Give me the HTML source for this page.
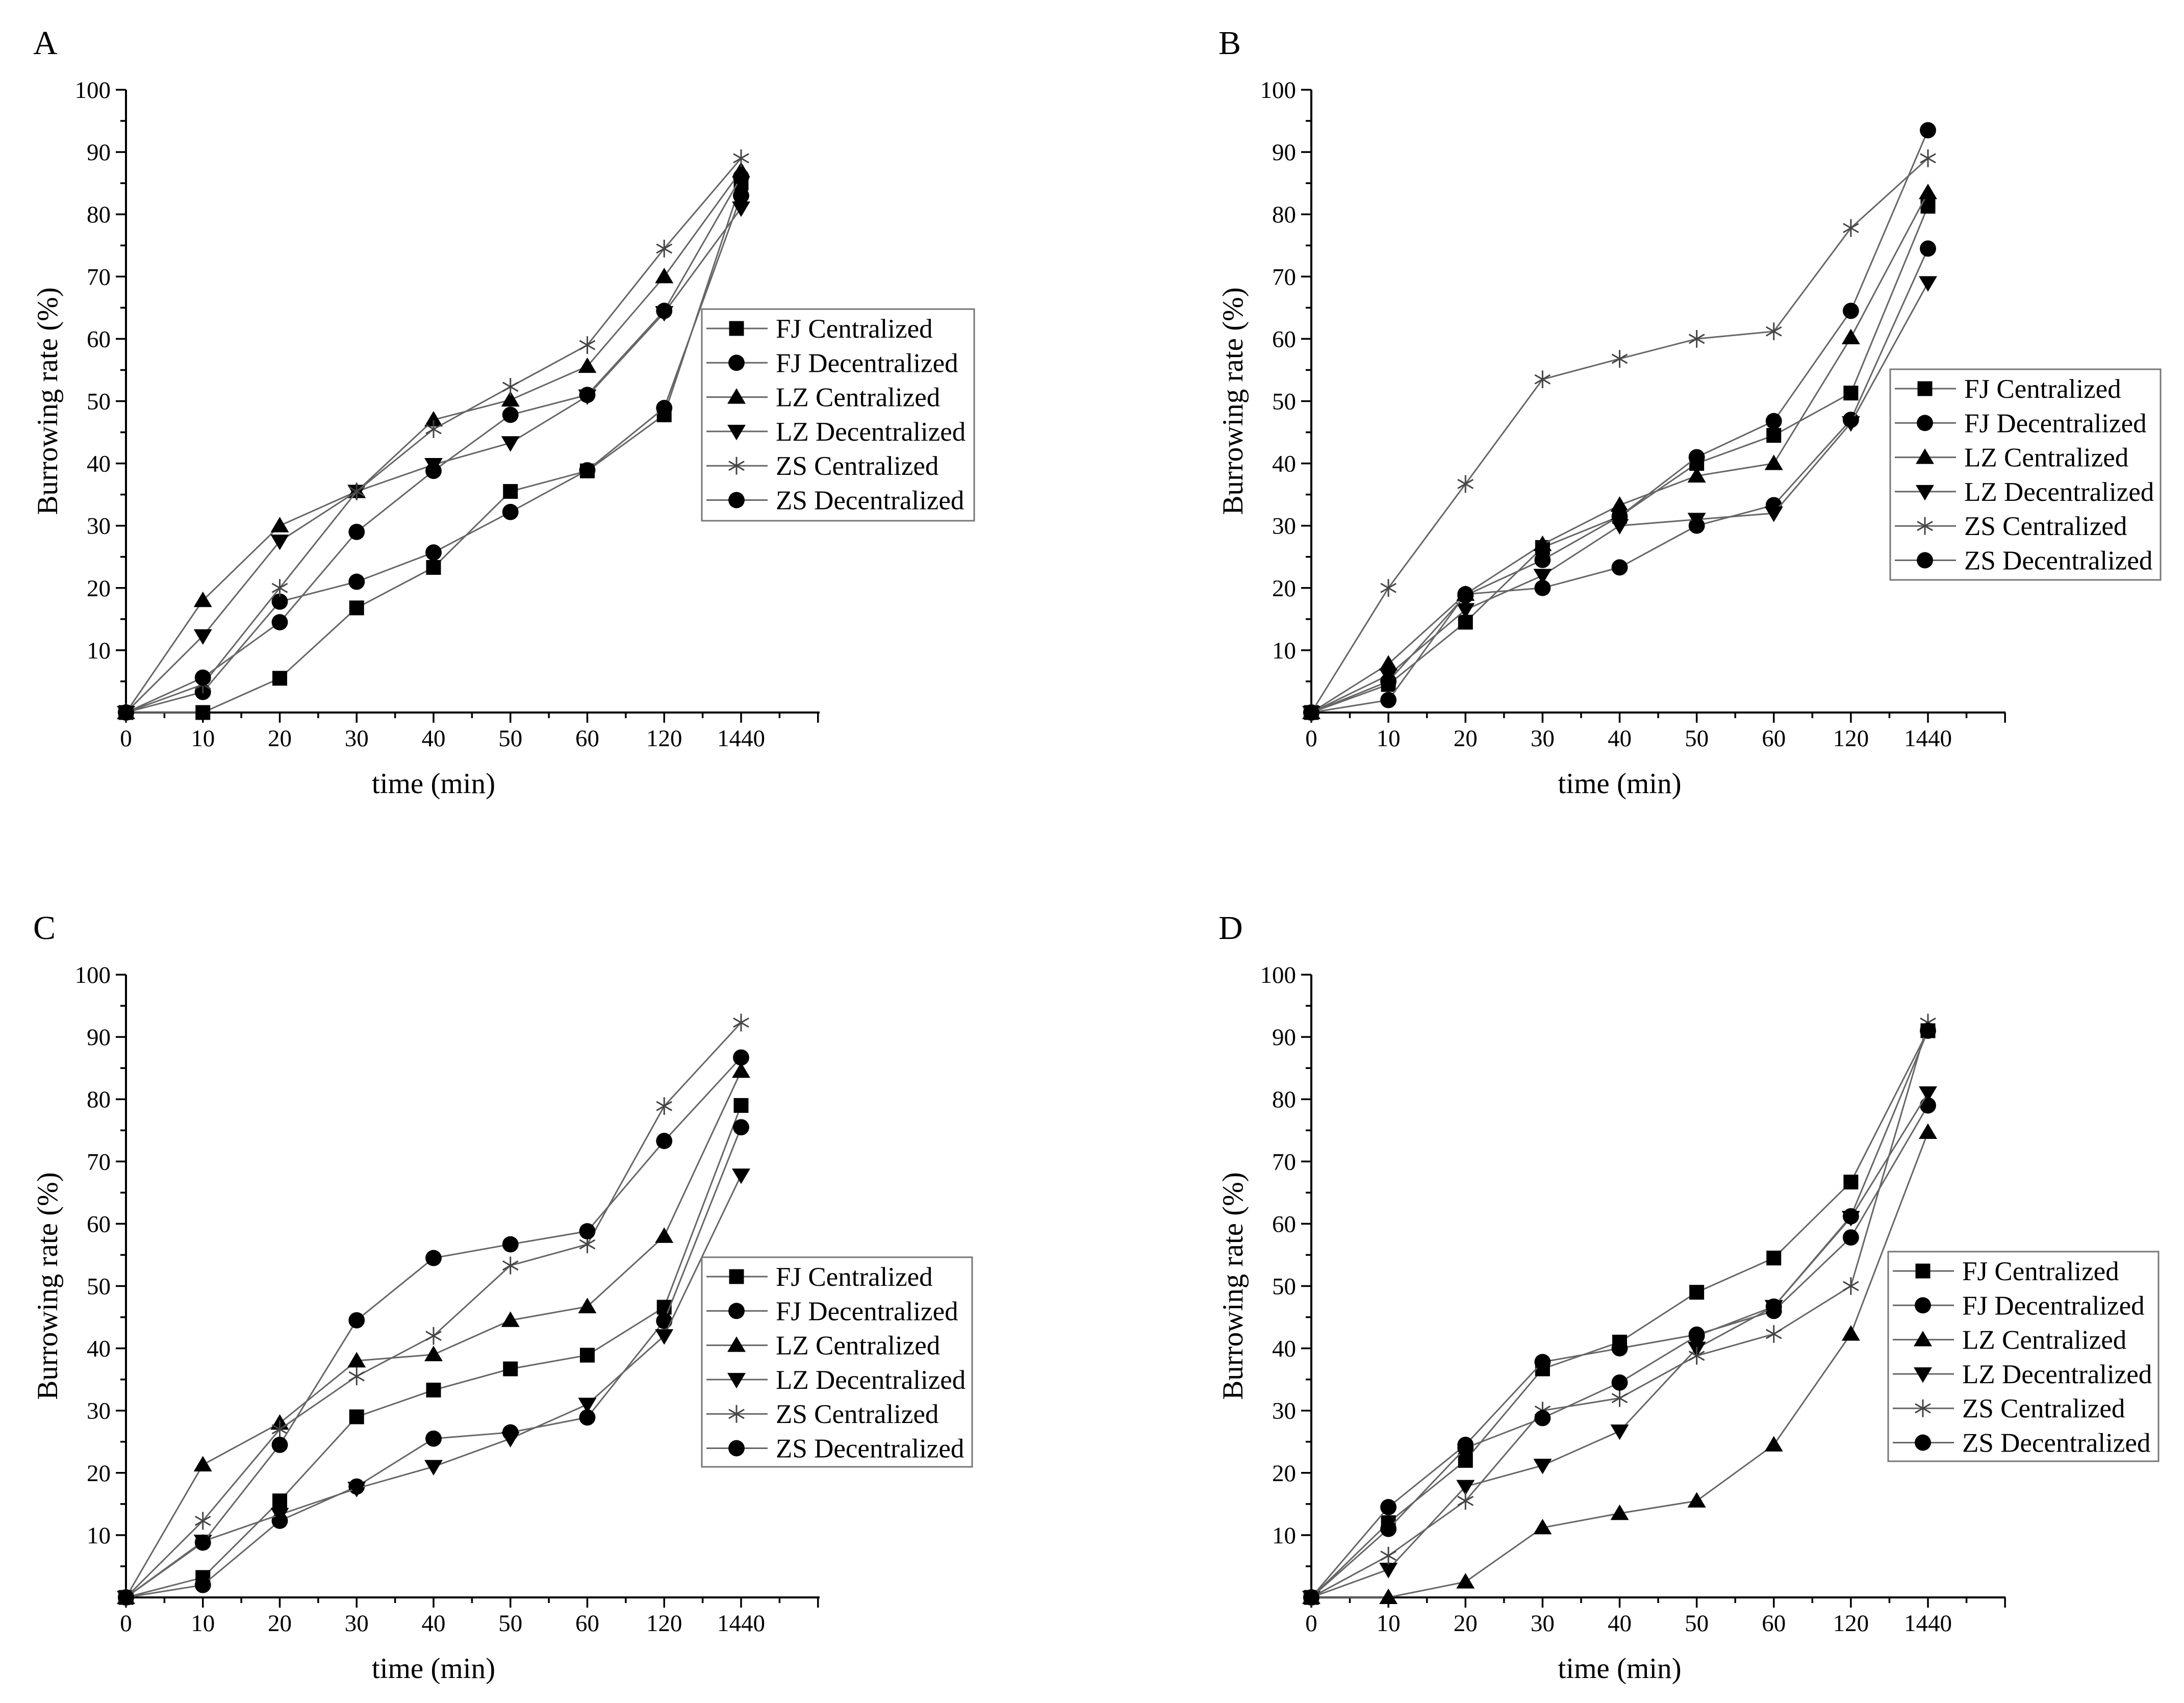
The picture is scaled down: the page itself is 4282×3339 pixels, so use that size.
<!DOCTYPE html>
<html><head><meta charset="utf-8"><style>
html,body{margin:0;padding:0;background:#fff;}
svg{display:block;font-family:"Liberation Serif",serif;}
</style></head><body>
<svg id="fig" xmlns="http://www.w3.org/2000/svg" width="4282" height="3339" viewBox="0 0 4282 3339">
<rect width="4282" height="3339" fill="#fff"/>
</svg>
<script>
const categories = ["0","10","20","30","40","50","60","120","1440"];
const seriesNames = ["FJ Centralized","FJ Decentralized","LZ Centralized","LZ Decentralized","ZS Centralized","ZS Decentralized"];
const yTicks = [10,20,30,40,50,60,70,80,90,100];
// Panel A
const A_FJC = [0,0,5.5,16.8,23.3,35.5,38.8,47.8,85];
const A_FJD = [0,3.3,17.8,21,25.7,32.2,38.9,48.9,83];
const A_LZC = [0,18,30,35.5,47,50.2,55.6,70,87];
const A_LZD = [0,12.3,27.5,35.5,39.8,43.3,50.8,64.2,81];
const A_ZSC = [0,4.5,20,35.5,45.5,52.3,59,74.5,89];
const A_ZSD = [0,5.6,14.5,29,38.8,47.8,51,64.5,86];
// Panel B
const B_FJC = [0,4.5,14.5,26.5,31.5,40,44.5,51.3,81.3];
const B_FJD = [0,2,19,20,23.3,30,33.3,47,74.5];
const B_LZC = [0,7.8,19,27,33.3,38,40,60.2,83.5];
const B_LZD = [0,6,16.5,22,30,31,32,46.5,69];
const B_ZSC = [0,20,36.7,53.5,56.8,60,61.2,77.8,89];
const B_ZSD = [0,5,18.8,24.5,31.5,41,46.8,64.5,93.5];
// Panel C
const C_FJC = [0,3.2,15.5,29,33.3,36.7,38.9,46.6,79];
const C_FJD = [0,2,12.3,17.8,25.5,26.5,28.9,44.4,75.5];
const C_LZC = [0,21.3,28,38,39,44.5,46.7,58,84.5];
const C_LZD = [0,9,13.3,17.5,21,25.5,31,42,67.8];
const C_ZSC = [0,12.3,27,35.5,42,53.3,56.7,78.9,92.3];
const C_ZSD = [0,8.8,24.5,44.5,54.5,56.7,58.8,73.3,86.7];
// Panel D
const D_FJC = [0,12,22,36.7,41,49,54.5,66.7,91];
const D_FJD = [0,14.5,24.5,37.8,40,42.2,46,57.8,79];
const D_LZC = [0,0,2.5,11.2,13.5,15.5,24.5,42.3,74.7];
const D_LZD = [0,4.5,17.8,21.2,26.7,40,46.7,61,81];
const D_ZSC = [0,6.7,15.5,30,32,38.8,42.3,50,92.3];
const D_ZSD = [0,11,24,28.8,34.5,42,46.7,61.2,91];

const NS="http://www.w3.org/2000/svg";
const svg=document.getElementById('fig');
function mk(tag,attrs,parent){const e=document.createElementNS(NS,tag);for(const k in attrs)e.setAttribute(k,attrs[k]);(parent||svg).appendChild(e);return e;}
const markers=["square","circle","up","down","star","circle"];
function drawMarker(g,type,x,y,s){
  let e;
  if(type==="square"){e=mk('rect',{x:x-s*0.5,y:y-s*0.5,width:s,height:s,fill:'#000'},g);}
  else if(type==="circle"){e=mk('circle',{cx:x,cy:y,r:s*0.55,fill:'#000'},g);}
  else if(type==="up"){e=mk('polygon',{points:`${x},${y-s*0.6} ${x-s*0.62},${y+s*0.45} ${x+s*0.62},${y+s*0.45}`,fill:'#000'},g);}
  else if(type==="down"){e=mk('polygon',{points:`${x},${y+s*0.6} ${x-s*0.62},${y-s*0.45} ${x+s*0.62},${y-s*0.45}`,fill:'#000'},g);}
  else {const r=s*0.6;let d='';for(let i=0;i<3;i++){const a=Math.PI/2+i*Math.PI/3;d+=`M${x+r*Math.cos(a)},${y+r*Math.sin(a)}L${x-r*Math.cos(a)},${y-r*Math.sin(a)}`;}
    e=mk('path',{d:d,stroke:'#444',"stroke-width":3,fill:'none'},g);}
  return e;
}
const panels=[
 {id:'a',label:'A',x0:247,x8:1453,xend:1607,yb:1397,yt:176,data:[A_FJC,A_FJD,A_LZC,A_LZD,A_ZSC,A_ZSD],lg:[1376,606,534,415]},
 {id:'b',label:'B',x0:2571,x8:3780,xend:3932,yb:1397,yt:176,data:[B_FJC,B_FJD,B_LZC,B_LZD,B_ZSC,B_ZSD],lg:[3706,724,530,413]},
 {id:'c',label:'C',x0:247,x8:1453,xend:1607,yb:3132,yt:1911,data:[C_FJC,C_FJD,C_LZC,C_LZD,C_ZSC,C_ZSD],lg:[1376,2465,530,411]},
 {id:'d',label:'D',x0:2571,x8:3780,xend:3932,yb:3132,yt:1911,data:[D_FJC,D_FJD,D_LZC,D_LZD,D_ZSC,D_ZSD],lg:[3702,2454,530,411]}
];
panels.forEach(p=>{
  const g=mk('g',{});
  
  
  const step=(p.x8-p.x0)/8;
  const X=i=>p.x0+i*step;
  const Y=v=>p.yb-(v/100)*(p.yb-p.yt);
  const t=mk('text',{x:p.x0-182,y:p.yt-70,"font-size":66},g);t.textContent=p.label;
  
  
  const ax=mk('path',{d:`M${p.x0},${p.yt}V${p.yb}H${p.xend}`,stroke:'#000',"stroke-width":4,fill:'none'},g);
  
  
  for(let v=5;v<=100;v+=5){const maj=v%10===0;mk('line',{x1:p.x0,x2:p.x0-(maj?20:11),y1:Y(v),y2:Y(v),stroke:'#000',"stroke-width":3.5},g);}
  yTicks.forEach(v=>{const tt=mk('text',{x:p.x0-30,y:Y(v)+16,"font-size":47,"text-anchor":'end'},g);tt.textContent=v;
    
    });
  const nEnd=Math.round((p.xend-p.x0)/step);
  for(let i=0;i<=nEnd;i++){const x=Math.min(p.x0+i*step,p.xend);mk('line',{x1:x,x2:x,y1:p.yb,y2:p.yb+20,stroke:'#000',"stroke-width":3.5},g);
    if(i<nEnd){mk('line',{x1:x+step/2,x2:x+step/2,y1:p.yb,y2:p.yb+11,stroke:'#000',"stroke-width":3.5},g);}}
  categories.forEach((c,i)=>{const tt=mk('text',{x:X(i),y:p.yb+66,"font-size":47,"text-anchor":'middle'},g);tt.textContent=c;
    
    });
  const xt=mk('text',{x:X(4),y:p.yb+158,"font-size":57,"text-anchor":'middle'},g);xt.textContent='time (min)';
  
  
  const yc=(p.yb+p.yt)/2;
  const yt=mk('text',{x:0,y:0,"font-size":57,"text-anchor":'middle',transform:`translate(${p.x0-135},${yc}) rotate(-90)`},g);yt.textContent='Burrowing rate (%)';
  
  
  p.data.forEach((arr,si)=>{
    const sg=mk('g',{},g);
    
    
    const pl=mk('polyline',{points:arr.map((v,i)=>X(i)+','+Y(v)).join(' '),fill:'none',stroke:'#666',"stroke-width":3},sg);
    
    
    arr.forEach((v,i)=>{const m=drawMarker(sg,markers[si],X(i),Y(v),29);
      
      });
  });
  const [lx,ly,lw,lh]=p.lg;
  const lgG=mk('g',{},g);
  
  
  mk('rect',{x:lx,y:ly,width:lw,height:lh,fill:'#fff',stroke:'#777',"stroke-width":3},lgG);
  seriesNames.forEach((n,si)=>{
    const cy=ly+38+si*67.3;
    const eg=mk('g',{},lgG);
    
    
    mk('line',{x1:lx+9,x2:lx+129,y1:cy,y2:cy,stroke:'#666',"stroke-width":3},eg);
    drawMarker(eg,markers[si],lx+68,cy,29);
    const tt=mk('text',{x:lx+145,y:cy+18,"font-size":53},eg);tt.textContent=n;
  });
});
</script>
</body></html>
